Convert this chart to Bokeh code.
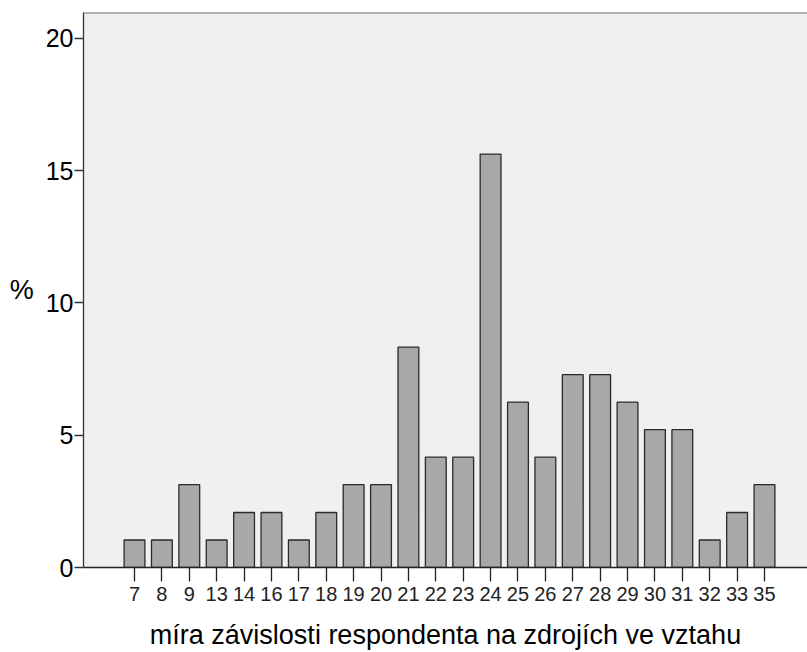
from bokeh.plotting import figure
from bokeh.models import Range1d, FixedTicker, Span
from bokeh.embed import file_html
from bokeh.resources import INLINE

categories = ["7", "8", "9", "13", "14", "16", "17", "18", "19", "20", "21", "22",
              "23", "24", "25", "26", "27", "28", "29", "30", "31", "32", "33", "35"]
percent = [1.04, 1.04, 3.13, 1.04, 2.08, 2.08, 1.04, 2.08, 3.13, 3.13, 8.33, 4.17,
           4.17, 15.63, 6.25, 4.17, 7.29, 7.29, 6.25, 5.21, 5.21, 1.04, 2.08, 3.13]
y_ticks = [0, 5, 10, 15, 20]
x_title = "míra závislosti respondenta na zdrojích ve vztahu"
y_title = "%"

idx = list(range(len(categories)))
FONT = "Liberation Sans"
Y_MAX = 20.98

p = figure(width=807, height=652, output_backend="svg", toolbar_location=None,
           x_range=Range1d(-1.862, 24.57), y_range=Range1d(0, Y_MAX),
           min_border_left=83, min_border_top=12, min_border_right=0, min_border_bottom=84)

p.background_fill_color = "#F0F0F0"
p.border_fill_color = "white"
p.outline_line_color = None
p.xgrid.visible = False
p.ygrid.visible = False

p.vbar(x=idx, top=percent, width=0.76, bottom=0,
       fill_color="#A8A8A8", line_color="#2A2A2A", line_width=1.3)

# x axis
xa = p.xaxis[0]
xa.ticker = FixedTicker(ticks=idx)
xa.major_label_overrides = {i: c for i, c in zip(idx, categories)}
xa.major_tick_out = 14
xa.major_tick_in = 0
xa.minor_tick_out = 0
xa.minor_tick_in = 0
xa.major_label_standoff = 5
xa.major_label_text_font = FONT
xa.major_label_text_font_size = "20px"
xa.major_label_text_color = "#222222"
xa.axis_label = x_title
xa.axis_label_text_font = FONT
xa.axis_label_text_font_size = "27px"
xa.axis_label_text_font_style = "normal"
xa.axis_label_text_color = "black"
xa.axis_label_standoff = 16
xa.axis_line_color = "#222222"
xa.axis_line_width = 1.3
xa.major_tick_line_color = "#222222"
xa.major_tick_line_width = 1.3

# y axis
ya = p.yaxis[0]
ya.ticker = FixedTicker(ticks=y_ticks)
ya.major_tick_out = 9
ya.major_tick_in = 0
ya.minor_tick_out = 0
ya.minor_tick_in = 0
ya.major_label_standoff = 1
ya.major_label_text_font = FONT
ya.major_label_text_font_size = "25px"
ya.major_label_text_color = "black"
ya.axis_label = y_title
ya.axis_label_orientation = "horizontal"
ya.axis_label_text_font = FONT
ya.axis_label_text_font_size = "27px"
ya.axis_label_text_font_style = "normal"
ya.axis_label_text_color = "black"
ya.axis_label_standoff = 9
ya.axis_line_color = "#333333"
ya.axis_line_width = 1.3
ya.major_tick_line_color = "#333333"
ya.major_tick_line_width = 1.3

# top frame line
p.add_layout(Span(location=Y_MAX, dimension="width", line_color="#707070", line_width=2))

open("out.html", "w").write(file_html(p, INLINE))
